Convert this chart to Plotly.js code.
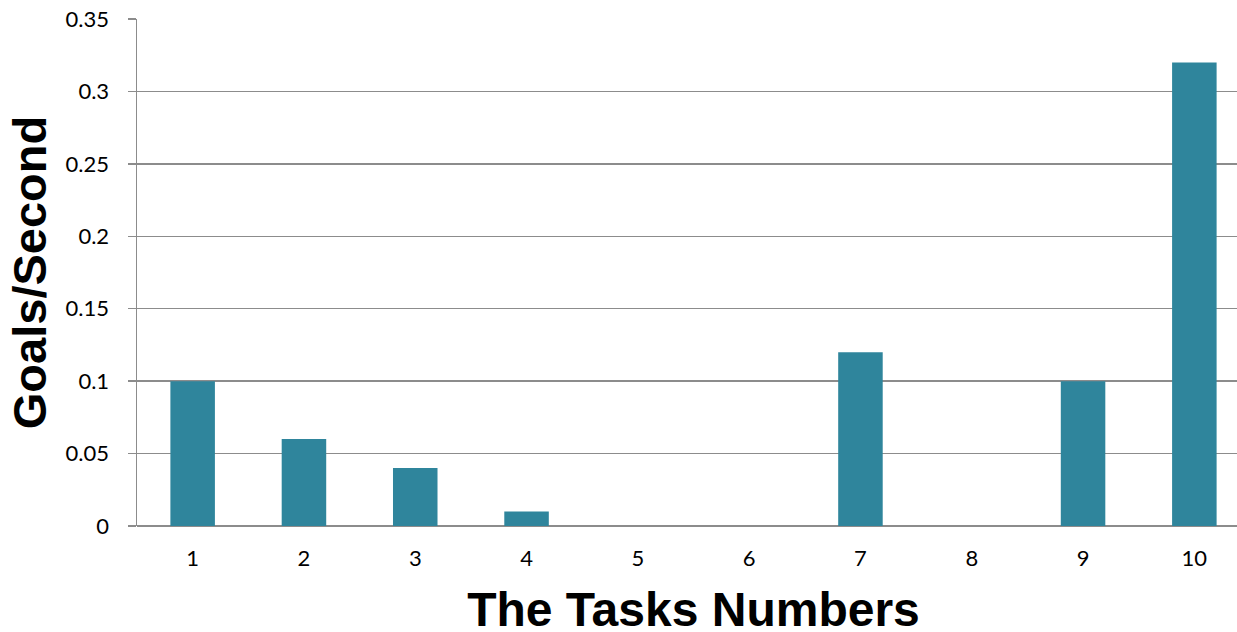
<!DOCTYPE html>
<html>
<head>
<meta charset="utf-8">
<script src="https://cdn.plot.ly/plotly-3.0.1.min.js"></script>
<style>html,body{margin:0;padding:0;background:#fff;overflow:hidden;}#wrap{width:1237px;height:632px;overflow:hidden;}#chart{width:1250px;height:645px;}</style>
</head>
<body>
<div id="wrap"><div id="chart"></div></div>
<script>
const tasks = [1, 2, 3, 4, 5, 6, 7, 8, 9, 10];
const goalsPerSecond = [0.1, 0.06, 0.04, 0.01, 0, 0, 0.12, 0, 0.1, 0.32];
const yTicks = [0, 0.05, 0.1, 0.15, 0.2, 0.25, 0.3, 0.35];
const yTickLabels = ["0", "0.05", "0.1", "0.15", "0.2", "0.25", "0.3", "0.35"];

const trace = {
  type: 'bar',
  x: tasks,
  y: goalsPerSecond,
  width: 0.4,
  marker: {color: '#2F859C', line: {width: 0}},
  hoverinfo: 'x+y'
};

const layout = {
  width: 1250, height: 645,
  margin: {l: 137, r: 0, t: 19, b: 119},
  paper_bgcolor: '#fff', plot_bgcolor: '#fff',
  showlegend: false,
  font: {family: 'Lato, "Open Sans", sans-serif', size: 22, color: '#000'},
  xaxis: {
    range: [0.5, 10.5],
    tickvals: tasks,
    ticktext: tasks.map(String),
    showgrid: false, zeroline: false,
    showline: false,
    ticks: '',
    ticklabelstandoff: 17,
    tickfont: {size: 22},
    title: {text: 'The Tasks Numbers', font: {family: '"Liberation Sans", Arial, sans-serif', size: 48, color: '#000', weight: 'bold'}, standoff: 22}
  },
  yaxis: {
    range: [0, 0.35],
    tickvals: yTicks,
    ticktext: yTickLabels,
    showgrid: true, gridcolor: '#8C8C8C', gridwidth: 1.5,
    zeroline: true, zerolinecolor: '#8C8C8C', zerolinewidth: 1.5,
    showline: true, linecolor: '#8C8C8C', linewidth: 1.5,
    ticks: 'outside', ticklen: 8, tickcolor: '#8C8C8C', tickwidth: 1.5,
    ticklabelstandoff: 14,
    tickfont: {size: 22},
    title: {text: 'Goals/Second', font: {family: '"Liberation Sans", Arial, sans-serif', size: 47, color: '#000', weight: 'bold'}, standoff: 4}
  }
};

Plotly.newPlot('chart', [trace], layout, {displayModeBar: false, staticPlot: true});
</script>
</body>
</html>
